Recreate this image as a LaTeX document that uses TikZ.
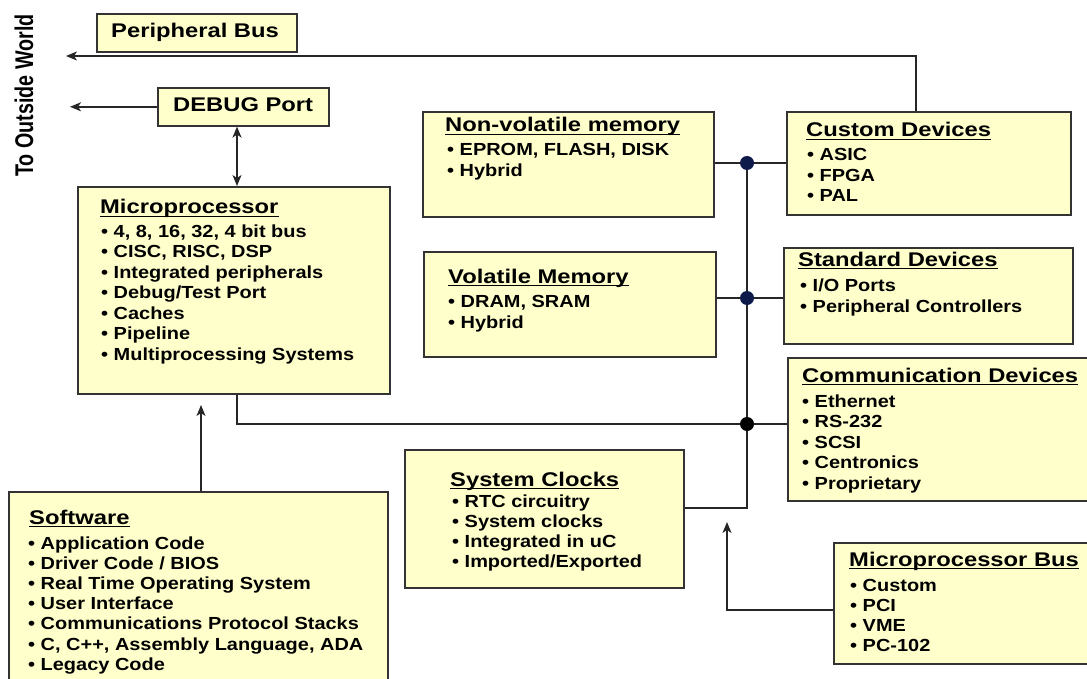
\documentclass[tikz,border=0pt]{standalone}
\usepackage{fontspec}
\usepackage{graphicx}
\setmainfont{Liberation Sans}
\newfontfamily\ttlfam[FakeStretch=1.2]{Liberation Sans}
\newfontfamily\itmfam[FakeStretch=1.14]{Liberation Sans}
\usetikzlibrary{arrows.meta}
\definecolor{boxfill}{HTML}{FFFFCC}
\definecolor{boxline}{HTML}{333333}
\definecolor{wirecol}{HTML}{262626}
\definecolor{navy}{HTML}{0E1A4A}

\tikzset{
  blk/.style={draw=boxline, fill=boxfill, line width=1.6pt, anchor=north west, inner sep=0pt},
  ttl/.style={inner sep=0pt, anchor=base west, font=\ttlfam\bfseries\fontsize{19.8}{22}\selectfont},
  itm/.style={inner sep=0pt, anchor=base west, font=\itmfam\bfseries\fontsize{17.5}{20}\selectfont},
  uline/.style={line width=1.6pt, draw=black},
  wire/.style={draw=wirecol, line width=1.7pt},
  tip/.tip={Stealth[length=11pt,width=9pt,inset=3pt]},
  arr/.style={wire, -tip},
  darr/.style={wire, tip-tip},
  jdot/.style={circle, inner sep=0pt, minimum size=14pt, fill=#1},
}

% list of bullet items: name prefix, x, first baseline, line step, items
\newcommand\itemlist[5]{%
  \foreach \t [count=\i from 0] in {#5} {%
    \node[itm] (#1-\i) at (#2, #3+\i*#4) {•\ \t};}}
% underlined box heading
\newcommand\heading[4]{%
  \node[ttl] (#1) at (#2,#3) {#4};
  \draw[uline] ([yshift=-2.6pt]#1.base west) -- ([yshift=-2.6pt]#1.base east);}

\begin{document}
\begin{tikzpicture}[x=1pt,y=-1pt]
\useasboundingbox (0,0) rectangle (1087,679);
\clip (0,0) rectangle (1087,679);

% ---- boxes ----
\node[blk, minimum width=200pt, minimum height=38pt]  (pb)   at (96,13)   {};
\node[blk, minimum width=171pt, minimum height=38pt]  (dbg)  at (157,87)  {};
\node[blk, minimum width=312pt, minimum height=207pt] (mp)   at (77,186)  {};
\node[blk, minimum width=379pt, minimum height=209pt] (sw)   at (8,491)   {};
\node[blk, minimum width=291pt, minimum height=105pt] (nv)   at (422,111) {};
\node[blk, minimum width=284pt, minimum height=103pt] (cd)   at (786,111) {};
\node[blk, minimum width=292pt, minimum height=105pt] (vm)   at (423,251) {};
\node[blk, minimum width=289pt, minimum height=96pt]  (sd)   at (783,247) {};
\node[blk, minimum width=323pt, minimum height=143pt] (comm) at (787,357) {};
\node[blk, minimum width=279pt, minimum height=138pt] (sc)   at (404,449) {};
\node[blk, minimum width=277pt, minimum height=121pt] (mb)   at (833,542) {};

% ---- connector points ----
\coordinate (pbturn) at (916,56);
\coordinate (pbout)  at (66,56);
\coordinate (dbgout) at (70,106);
\coordinate (dx)     at (237,0);
\coordinate (j1)     at (747,163);
\coordinate (j2)     at (747,298);
\coordinate (j3)     at (747,424);
\coordinate (bb)     at (747,508);
\coordinate (mpturn) at (237,424);
\coordinate (swtip)  at (201,405);
\coordinate (mbturn) at (727,610);
\coordinate (mbtip)  at (727,522);

% ---- connectors ----
\draw[arr] (cd.north -| pbturn) -- (pbturn) -- (pbout);
\draw[arr] (dbg.west) -- (dbg.west -| dbgout);
\draw[darr] (dbg.south -| dx) -- (mp.north -| dx);
\draw[wire] (nv.east |- j1) -- (cd.west |- j1);
\draw[wire] (vm.east |- j2) -- (sd.west |- j2);
\draw[wire] (mp.south -| mpturn) -- (mpturn) -- (comm.west |- j3);
\draw[wire] (j1) -- (bb) -- (sc.east |- bb);
\draw[arr] (sw.north -| swtip) -- (swtip);
\draw[arr] (mb.west |- mbturn) -- (mbturn) -- (mbtip);
\node[jdot=navy]  (d1) at (j1) {};
\node[jdot=navy]  (d2) at (j2) {};
\node[jdot=black] (d3) at (j3) {};

% ---- side label ----
\node[rotate=90, anchor=base west, inner sep=0pt, font=\bfseries\fontsize{19.7}{22}\selectfont]
  (world) at (33,177) {\scalebox{1}[1.3]{To Outside World}};

% ---- texts ----
\node[ttl] (pbt)  at (111,38)  {Peripheral Bus};
\node[ttl] (dbgt) at (173,112) {DEBUG Port};

\heading{mpt}{100}{214}{Microprocessor}
\itemlist{mpi}{101}{237}{20.5}{{4, 8, 16, 32, 4 bit bus},{CISC, RISC, DSP},Integrated peripherals,Debug/Test Port,Caches,Pipeline,Multiprocessing Systems}

\heading{swt}{29}{524}{Software}
\itemlist{swi}{28}{549}{20.2}{Application Code,Driver Code / BIOS,Real Time Operating System,User Interface,Communications Protocol Stacks,{C, C++, Assembly Language, ADA},Legacy Code}

\heading{nvt}{445}{132}{Non-volatile memory}
\itemlist{nvi}{447}{156}{21}{{EPROM, FLASH, DISK},Hybrid}

\heading{cdt}{806}{137}{Custom Devices}
\itemlist{cdi}{807}{161}{20.5}{ASIC,FPGA,PAL}

\heading{vmt}{448}{283}{Volatile Memory}
\itemlist{vmi}{448}{307}{21}{{DRAM, SRAM},Hybrid}

\heading{sdt}{798}{266}{Standard Devices}
\itemlist{sdi}{800}{291}{21}{I/O Ports,Peripheral Controllers}

\heading{commt}{802}{382}{Communication Devices}
\itemlist{commi}{802}{407}{20.5}{Ethernet,RS-232,SCSI,Centronics,Proprietary}

\heading{sct}{450}{486}{System Clocks}
\itemlist{sci}{452}{507}{20.3}{RTC circuitry,System clocks,Integrated in uC,Imported/Exported}

\heading{mbt}{849}{566}{Microprocessor Bus}
\itemlist{mbi}{850}{591}{20.3}{Custom,PCI,VME,PC-102}
\end{tikzpicture}
\end{document}
